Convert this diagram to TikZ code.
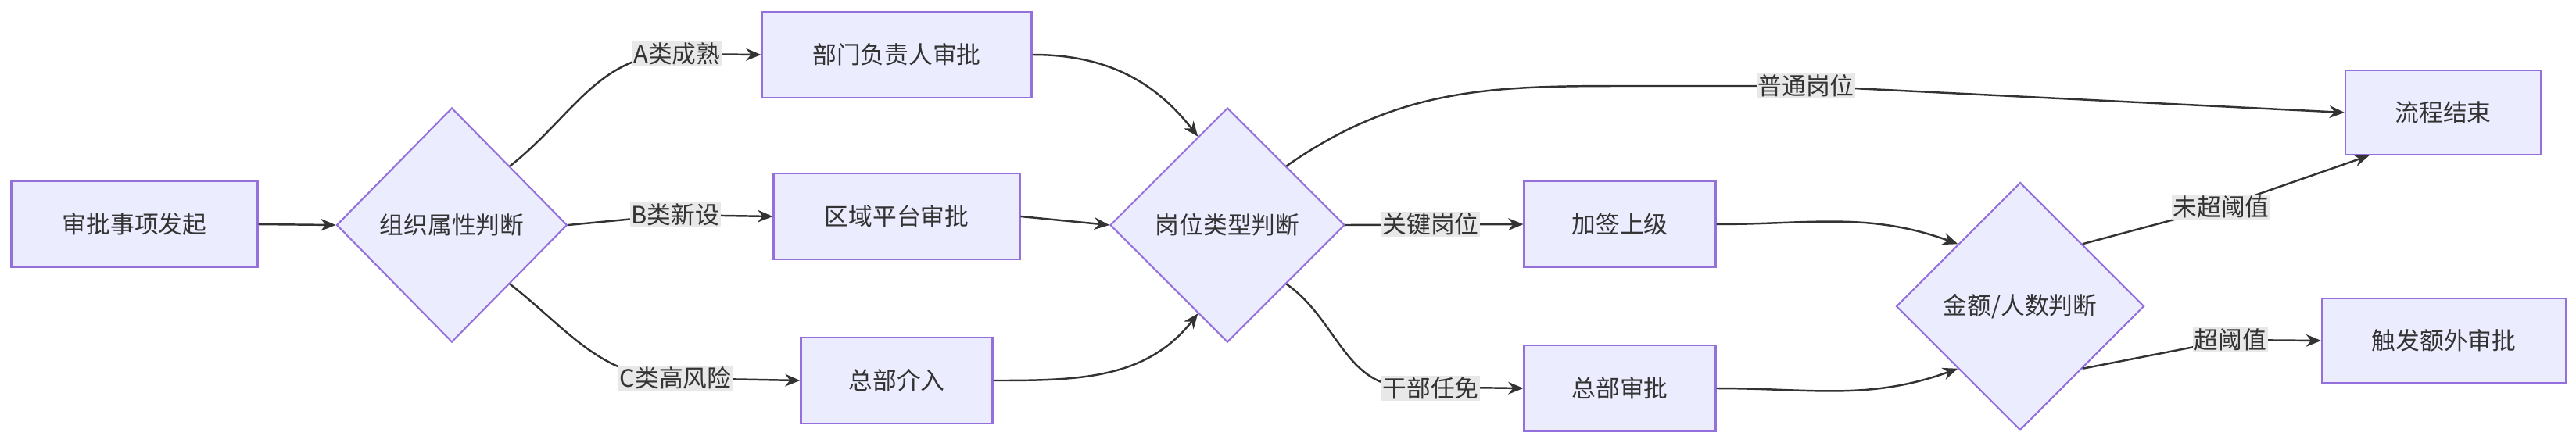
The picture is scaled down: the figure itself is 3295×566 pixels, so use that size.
\documentclass[tikz,border=0pt]{standalone}
\usepackage{fontspec}
\setmainfont{Noto Sans CJK SC}
\usetikzlibrary{shapes.geometric,arrows.meta,calc}
\definecolor{nfill}{HTML}{ECECFF}
\definecolor{nstroke}{HTML}{9370DB}
\definecolor{txt}{HTML}{333333}
\definecolor{lblbg}{HTML}{E8E8E8}
\begin{document}
\begin{tikzpicture}[x=0.02cm,y=-0.02cm,
  font=\fontsize{17.5}{21}\selectfont, text=txt,
  box/.style={draw=nstroke,fill=nfill,line width=1.2pt,inner sep=0pt},
  dia/.style={draw=nstroke,fill=nfill,line width=1.2pt,shape=diamond,inner sep=0pt},
  lbl/.style={fill=lblbg,inner sep=1pt},
  arr/.style={draw=txt,line width=1.4pt,-{Stealth[length=11pt,width=9pt]}}]
\useasboundingbox (0,0) rectangle (3295,566);
\node[box,minimum width=6.3cm,minimum height=2.2cm] (s) at (172,287) {审批事项发起};
\node[dia,minimum width=5.9cm,minimum height=6cm] (d1) at (578,288) {组织属性判断};
\node[box,minimum width=6.9cm,minimum height=2.2cm] (b1) at (1147,70) {部门负责人审批};
\node[box,minimum width=6.3cm,minimum height=2.2cm] (b2) at (1147,277) {区域平台审批};
\node[box,minimum width=4.9cm,minimum height=2.2cm] (b3) at (1147,487) {总部介入};
\node[dia,minimum width=6cm,minimum height=6cm] (d2) at (1570,288) {岗位类型判断};
\node[box,minimum width=4.9cm,minimum height=2.2cm] (k1) at (2072,287) {加签上级};
\node[box,minimum width=4.9cm,minimum height=2.2cm] (hq) at (2072,497) {总部审批};
\node[box,minimum width=5cm,minimum height=2.16cm] (end) at (3125,144) {流程结束};
\node[dia,minimum width=6.34cm,minimum height=6.34cm] (d3) at (2584,392) {金额/人数判断};
\node[box,minimum width=6.24cm,minimum height=2.16cm] (tr) at (3126,436) {触发额外审批};
\coordinate (cA) at (866,69);
\coordinate (cB) at (864,275);
\coordinate (cC) at (864,484);
\coordinate (cP) at (2310,110);
\coordinate (cN) at (2841,265);
\coordinate (cT) at (2853,435);
\draw[arr] (s.east) -- (d1.west);
\draw[arr] (d1.north east) to[out=38,in=180] (cA) -- (b1.west);
\draw[arr] (d1.east) -- (cB) -- (b2.west);
\draw[arr] (d1.south east) to[out=-38,in=180] (cC) -- (b3.west);
\draw[arr] (b1.east) to[out=0,in=128] ($(d2.north west)!0.5!(d2.north)$);
\draw[arr] (b2.east) -- (d2.west);
\draw[arr] (b3.east) to[out=0,in=-128] ($(d2.south west)!0.5!(d2.south)$);
\draw[arr] (d2.north east) to[out=35,in=180] (2100,110) -- (cP) -- (end.west);
\draw[arr] (d2.east) -- (k1.west);
\draw[arr] (d2.south east) to[out=-35,in=180] (1800,495) -- (hq.west);
\draw[arr] (k1.east) to[out=0,in=160] (d3.north west);
\draw[arr] (hq.east) to[out=0,in=-160] (d3.south west);
\draw[arr] (d3.north east) -- (cN) -- ($(end.south west)!0.25!(end.south)$);
\draw[arr] (d3.south east) -- (cT) -- (tr.west);
\node[lbl] at (cA) {A类成熟};
\node[lbl] at (cB) {B类新设};
\node[lbl] at (cC) {C类高风险};
\node[lbl] at (cP) {普通岗位};
\node[lbl] at (1830,287) {关键岗位};
\node[lbl] at (1830,497) {干部任免};
\node[lbl] at (cN) {未超阈值};
\node[lbl] at (cT) {超阈值};
\end{tikzpicture}
\end{document}
